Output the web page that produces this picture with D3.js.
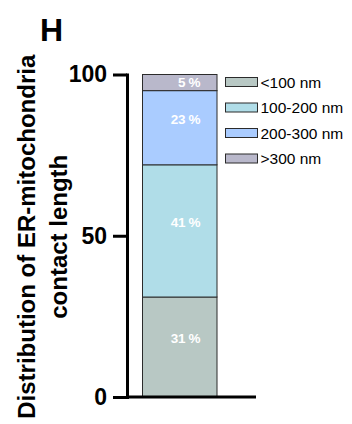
<!DOCTYPE html>
<html>
<head>
<meta charset="utf-8">
<script src="https://cdn.jsdelivr.net/npm/d3@7/dist/d3.min.js"></script>
<style>
  html, body { margin: 0; padding: 0; background: #fff; }
  svg { display: block; font-family: "Liberation Sans", Arial, sans-serif; }
</style>
</head>
<body>
<svg id="chart" width="352" height="424"></svg>
<script>
// Length classes of ER–mitochondria contacts and their share (%)
const lengthClasses = ["<100 nm", "100-200 nm", "200-300 nm", ">300 nm"];
const shares = [31, 41, 23, 5];
const yTickValues = [0, 50, 100];
const groups = ["all"];

const fills = ["#b8c8c4", "#b0dde8", "#aaccff", "#b9b8cb"];

const svg = d3.select("#chart");

const y = d3.scaleLinear().domain([0, 100]).range([397, 74.5]);
const x = d3.scaleBand().domain(groups).range([142.5, 217]).paddingInner(0);

// Panel letter
svg.append("text")
  .attr("x", 40).attr("y", 40.5)
  .attr("font-size", 32).attr("font-weight", "bold")
  .text("H");

// Stack the segments
const stacked = [];
let acc = 0;
shares.forEach((v, i) => {
  stacked.push({ name: lengthClasses[i], value: v, y0: acc, y1: acc + v, fill: fills[i] });
  acc += v;
});

const bars = svg.append("g");
bars.selectAll("rect")
  .data(stacked)
  .join("rect")
  .attr("x", x(groups[0]))
  .attr("width", x.bandwidth())
  .attr("y", d => y(d.y1))
  .attr("height", d => y(d.y0) - y(d.y1))
  .attr("fill", d => d.fill)
  .attr("stroke", "#2b2b2b")
  .attr("stroke-width", 1);

// Percentage labels inside the segments
bars.selectAll("text")
  .data(stacked)
  .join("text")
  .attr("x", x(groups[0]) + x.bandwidth() - 17)
  .attr("y", d => {
    const top = y(d.y1), bottom = y(d.y0);
    const h = bottom - top;
    return (top + bottom) / 2 - Math.max(0, Math.min(9, h / 2 - 8));
  })
  .attr("dy", "0.36em")
  .attr("text-anchor", "end")
  .attr("fill", "#ffffff")
  .attr("font-size", 13.5)
  .attr("font-weight", "bold")
  .attr("letter-spacing", -0.4)
  .text(d => d.value + " %");

// Y axis
const yAxis = svg.append("g")
  .attr("transform", "translate(127,0)")
  .call(d3.axisLeft(y).tickValues(yTickValues).tickSize(14).tickSizeOuter(0).tickPadding(6));
yAxis.select(".domain").attr("stroke", "#000").attr("stroke-width", 3).attr("stroke-linecap", "square");
yAxis.selectAll(".tick line").attr("stroke", "#000").attr("stroke-width", 3);
yAxis.selectAll(".tick text")
  .attr("fill", "#000")
  .attr("font-size", 23)
  .attr("font-weight", "bold")
  .attr("font-family", "Liberation Sans, Arial, sans-serif");

// Baseline
svg.append("line")
  .attr("x1", 127).attr("x2", 256)
  .attr("y1", y(0)).attr("y2", y(0))
  .attr("stroke", "#000").attr("stroke-width", 3);

// Y axis title
const titleY = (y(0) + y(100)) / 2 + 1;
const title = svg.append("text")
  .attr("transform", `translate(35,${titleY}) rotate(-90)`)
  .attr("text-anchor", "middle")
  .attr("font-size", 24)
  .attr("font-weight", "bold");
title.append("tspan").attr("x", 0).attr("y", 0).text("Distribution of ER-mitochondria");
title.append("tspan").attr("x", 0).attr("y", 32).text("contact length");

// Legend
const legendRows = [82, 107.5, 133, 158.5];
const legend = svg.append("g")
  .selectAll("g")
  .data(stacked)
  .join("g")
  .attr("transform", (d, i) => `translate(225.5,${legendRows[i]})`);
legend.append("rect")
  .attr("x", 0).attr("y", -4.5)
  .attr("width", 32).attr("height", 9)
  .attr("fill", d => d.fill)
  .attr("stroke", "#2b2b2b").attr("stroke-width", 1);
legend.append("text")
  .attr("x", 35).attr("y", 0)
  .attr("dy", "0.36em")
  .attr("font-size", 15.5)
  .text(d => d.name);
</script>
</body>
</html>
